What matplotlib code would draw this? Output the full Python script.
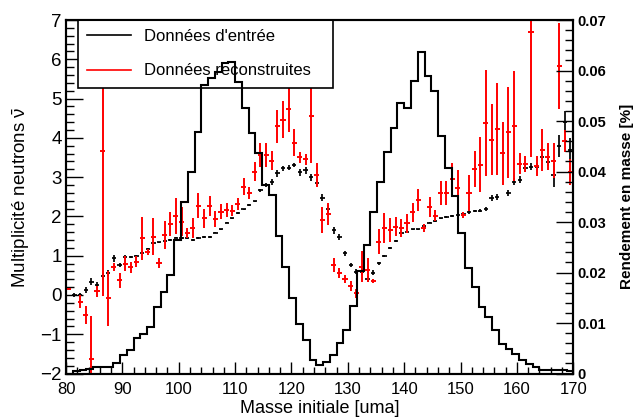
import numpy as np
import matplotlib
matplotlib.use('Agg')
import matplotlib.pyplot as plt
from matplotlib.lines import Line2D
from matplotlib.ticker import MultipleLocator, FuncFormatter

plt.rcParams['font.family'] = ['Liberation Sans', 'DejaVu Sans']
plt.rcParams['mathtext.fontset'] = 'custom'
plt.rcParams['mathtext.rm'] = 'Liberation Sans'
plt.rcParams['mathtext.it'] = 'Liberation Sans:italic'

# mass bins of the nu-bar points (1 uma wide) and of the yield histogram (1.2 uma wide)
mass = np.arange(80.5, 170.0, 1.0)
hist_edges = np.linspace(80, 170, 76)

# input data (black)
nu_in = [np.nan, 0.00, 0.00, 0.13, 0.34, 0.25, 0.47, 0.55, 0.93, 0.76,
         0.97, 0.97, 0.98, 1.08, 1.16, 1.32, 1.34, 1.38, 1.40, 1.46,
         1.45, 1.45, 1.40, 1.45, 1.47, 1.48, 1.59, 1.67, 1.84, 1.95,
         2.08, 2.18, 2.29, 2.38, 2.66, 2.80, 2.88, 3.10, 3.22, 3.24,
         3.31, 3.12, 3.17, 3.00, 2.86, 2.48, 2.19, 1.65, 1.47, 1.06,
         0.76, 0.59, 0.59, 0.40, 0.57, 0.81, 0.99, 1.19, 1.37, 1.57,
         1.61, 1.67, 1.67, 1.75, 1.84, 1.89, 1.95, 1.98, 2.01, 2.04,
         2.05, 2.10, 2.13, 2.15, 2.18, 2.47, 2.50, np.nan, 2.60, 2.88,
         2.93, 3.23, 3.27, 3.27, 3.52, 3.39, 3.05, 3.79, 4.41, 3.69]
nu_in_err = [0.0, 0.04, 0.04, 0.08, 0.09, 0.08, 0.08, 0.08, 0.08, 0.06,
             0.05, 0.03, 0.03, 0.03, 0.03, 0.03, 0.02, 0.02, 0.02, 0.02,
             0.02, 0.02, 0.02, 0.02, 0.02, 0.02, 0.02, 0.02, 0.02, 0.02,
             0.02, 0.02, 0.02, 0.02, 0.04, 0.06, 0.08, 0.09, 0.07, 0.06,
             0.06, 0.08, 0.09, 0.09, 0.09, 0.10, 0.10, 0.09, 0.07, 0.07,
             0.06, 0.06, 0.07, 0.07, 0.06, 0.04, 0.03, 0.03, 0.02, 0.02,
             0.02, 0.02, 0.02, 0.02, 0.02, 0.02, 0.02, 0.02, 0.02, 0.02,
             0.03, 0.03, 0.03, 0.03, 0.05, 0.07, 0.07, 0.0, 0.08, 0.09,
             0.09, 0.09, 0.09, 0.10, 0.12, 0.10, 0.30, 0.28, 0.28, 0.30]

# reconstructed data (red)
nu_rec = [0.15, np.nan, -0.17, -0.51, -1.64, 0.09, 3.67, -0.08, 0.72, 0.37,
          0.80, 0.70, 0.85, 1.44, 1.10, 1.48, 0.81, 1.53, 1.80, 2.01,
          1.87, 1.57, 1.70, 2.27, 1.95, 2.27, 1.93, 2.12, 2.16, 2.15,
          2.32, 2.76, 2.60, 3.14, 3.56, 3.56, 3.42, 4.30, 4.46, 4.74,
          3.88, 3.51, 3.45, 4.56, 3.06, 1.91, 2.06, 0.76, 0.55, 0.40,
          0.23, 0.04, 0.72, 0.64, 0.36, 1.36, 1.70, 1.65, 1.74, 1.70,
          1.82, 2.10, 2.42, 1.70, 2.24, 2.02, 2.59, 2.60, 2.95, 2.73,
          2.04, 2.60, 3.21, 3.31, 4.37, 3.95, 4.22, 3.61, 4.14, 4.29,
          3.34, 3.34, 6.70, 3.29, 3.69, 3.52, 3.42, 5.83, 3.93, 3.13]
nu_rec_err = [0.03, 0.0, 0.17, 0.23, 1.10, 0.15, 3.70, 0.70, 0.10, 0.19,
              0.20, 0.13, 0.13, 0.55, 0.08, 0.47, 0.13, 0.36, 0.30, 0.47,
              0.36, 0.13, 0.25, 0.32, 0.25, 0.25, 0.20, 0.19, 0.17, 0.15,
              0.15, 0.22, 0.15, 0.25, 0.30, 0.30, 0.25, 0.42, 0.47, 0.60,
              0.34, 0.14, 0.14, 1.20, 0.30, 0.32, 0.27, 0.18, 0.13, 0.10,
              0.12, 0.12, 0.40, 0.30, 0.05, 0.32, 0.38, 0.30, 0.25, 0.23,
              0.23, 0.25, 0.28, 0.10, 0.25, 0.14, 0.30, 0.30, 0.42, 0.45,
              0.08, 0.45, 0.45, 0.70, 1.35, 0.90, 1.17, 0.80, 1.16, 1.40,
              0.27, 0.20, 3.20, 0.25, 0.54, 0.34, 0.45, 1.10, 0.28, 0.34]

# mass yield (right axis)
yield_mass = [0.0000, 0.0004, 0.0007, 0.0008, 0.0012, 0.0012, 0.0013, 0.0021, 0.0037, 0.0046,
              0.0070, 0.0078, 0.0093, 0.0132, 0.0162, 0.0195, 0.0264, 0.0340, 0.0400, 0.0479,
              0.0571, 0.0585, 0.0598, 0.0614, 0.0616, 0.0578, 0.0526, 0.0476, 0.0436, 0.0373,
              0.0353, 0.0272, 0.0210, 0.0149, 0.0098, 0.0066, 0.0027, 0.0017, 0.0023, 0.0036,
              0.0060, 0.0086, 0.0134, 0.0202, 0.0254, 0.0320, 0.0379, 0.0439, 0.0487, 0.0536,
              0.0525, 0.0580, 0.0636, 0.0589, 0.0560, 0.0471, 0.0406, 0.0352, 0.0279, 0.0208,
              0.0171, 0.0132, 0.0112, 0.0087, 0.0058, 0.0048, 0.0039, 0.0027, 0.0019, 0.0012,
              0.0006, 0.0006, 0.0006, 0.0006, 0.0004]

fig = plt.figure(figsize=(6.33, 4.17), dpi=100)
ax1 = fig.add_axes([0.1043, 0.1043, 0.8014, 0.8477])
ax2 = ax1.twinx()

ax1.errorbar(mass, nu_in, yerr=nu_in_err, xerr=0.38, fmt='none',
             ecolor='black', elinewidth=1.25, capsize=0, zorder=2)
ax1.errorbar(mass, nu_rec, yerr=nu_rec_err, xerr=0.45, fmt='none',
             ecolor='red', elinewidth=1.4, capsize=0, zorder=3)

ax2.stairs(yield_mass, hist_edges, color='black', linewidth=1.5, baseline=0)

ax1.set_xlim(80, 170)
ax1.set_ylim(-2, 7)
ax2.set_ylim(0, 0.07)

ax1.xaxis.set_major_locator(MultipleLocator(10))
ax1.xaxis.set_minor_locator(MultipleLocator(2))
ax1.yaxis.set_major_locator(MultipleLocator(1))
ax1.yaxis.set_minor_locator(MultipleLocator(0.2))
ax2.yaxis.set_major_locator(MultipleLocator(0.01))
ax2.yaxis.set_minor_locator(MultipleLocator(0.002))
ax2.yaxis.set_major_formatter(FuncFormatter(lambda v, p: '0' if abs(v) < 1e-9 else '%.2f' % v))

ax1.tick_params(axis='x', which='major', direction='in', length=8.6, width=1.0,
                labelsize=12, pad=6, top=False)
ax1.tick_params(axis='x', which='minor', direction='in', length=4.7, width=1.0, top=False)
ax1.tick_params(axis='y', which='major', direction='in', length=12, width=1.0,
                labelsize=13.5, pad=3, right=False)
ax1.tick_params(axis='y', which='minor', direction='in', length=6, width=1.0, right=False)
ax2.tick_params(axis='y', which='major', direction='in', length=12, width=1.0,
                labelsize=10.5, pad=3)
ax2.tick_params(axis='y', which='minor', direction='in', length=6, width=1.0)
for lab in ax2.get_yticklabels():
    lab.set_fontweight('bold')

for ax in (ax1, ax2):
    for s in ax.spines.values():
        s.set_linewidth(1.5)

ax1.set_xlabel('Masse initiale [uma]', fontsize=13, labelpad=2)
ax1.set_ylabel(r'Multiplicité neutrons $\bar{\mathrm{\nu}}$', fontsize=13.5, labelpad=6)
ax2.set_ylabel('Rendement en masse [%]', fontsize=11, fontweight='bold', labelpad=10)

handles = [Line2D([], [], color='black', linewidth=1.2),
           Line2D([], [], color='red', linewidth=1.2)]
leg = ax1.legend(handles, ["Données d'entrée", 'Données reconstruites'],
                 loc='upper left', bbox_to_anchor=(0.024, 1.0, 0.502, 0.0),
                 mode='expand', borderaxespad=0, fontsize=12, frameon=True,
                 fancybox=False, framealpha=1, edgecolor='black',
                 borderpad=0.55, labelspacing=1.15, handlelength=2.6,
                 handletextpad=0.8)
leg.get_frame().set_linewidth(1.2)
leg.set_zorder(5)

fig.savefig('out.png', dpi=100)
